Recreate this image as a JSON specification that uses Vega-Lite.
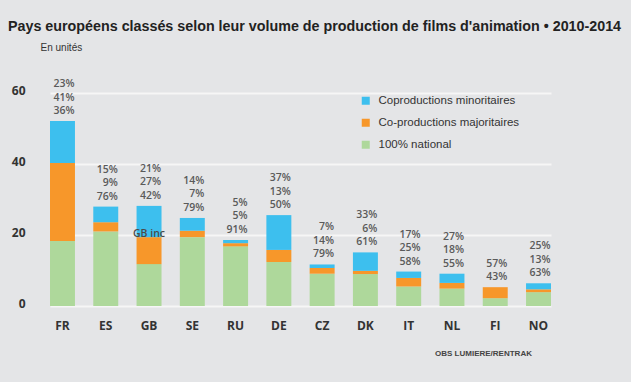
{
  "$schema": "https://vega.github.io/schema/vega-lite/v6.json",
  "width": 501,
  "height": 213,
  "autosize": {"type": "none"},
  "padding": {"left": 50, "top": 93, "right": 80, "bottom": 76},
  "background": "#e4e5e7",
  "title": {
    "text": "Pays européens classés selon leur volume de production de films d'animation • 2010-2014",
    "anchor": "start",
    "frame": "group",
    "dx": -42,
    "offset": 8,
    "fontSize": 14.3,
    "font": "Liberation Sans",
    "fontWeight": "bold",
    "color": "#222"
  },
  "datasets": {
    "bars": [
      {"country": "FR", "type": "100% national", "value": 18.3},
      {"country": "FR", "type": "Co-productions majoritaires", "value": 22.0},
      {"country": "FR", "type": "Coproductions minoritaires", "value": 11.8},
      {"country": "ES", "type": "100% national", "value": 21.0},
      {"country": "ES", "type": "Co-productions majoritaires", "value": 2.6},
      {"country": "ES", "type": "Coproductions minoritaires", "value": 4.4},
      {"country": "GB", "type": "100% national", "value": 11.8},
      {"country": "GB", "type": "Co-productions majoritaires", "value": 7.6},
      {"country": "GB", "type": "Coproductions minoritaires", "value": 8.8},
      {"country": "SE", "type": "100% national", "value": 19.4},
      {"country": "SE", "type": "Co-productions majoritaires", "value": 1.8},
      {"country": "SE", "type": "Coproductions minoritaires", "value": 3.6},
      {"country": "RU", "type": "100% national", "value": 16.8},
      {"country": "RU", "type": "Co-productions majoritaires", "value": 0.9},
      {"country": "RU", "type": "Coproductions minoritaires", "value": 0.9},
      {"country": "DE", "type": "100% national", "value": 12.4},
      {"country": "DE", "type": "Co-productions majoritaires", "value": 3.4},
      {"country": "DE", "type": "Coproductions minoritaires", "value": 9.8},
      {"country": "CZ", "type": "100% national", "value": 9.1},
      {"country": "CZ", "type": "Co-productions majoritaires", "value": 1.6},
      {"country": "CZ", "type": "Coproductions minoritaires", "value": 1.0},
      {"country": "DK", "type": "100% national", "value": 9.0},
      {"country": "DK", "type": "Co-productions majoritaires", "value": 0.9},
      {"country": "DK", "type": "Coproductions minoritaires", "value": 5.2},
      {"country": "IT", "type": "100% national", "value": 5.5},
      {"country": "IT", "type": "Co-productions majoritaires", "value": 2.4},
      {"country": "IT", "type": "Coproductions minoritaires", "value": 1.8},
      {"country": "NL", "type": "100% national", "value": 4.9},
      {"country": "NL", "type": "Co-productions majoritaires", "value": 1.6},
      {"country": "NL", "type": "Coproductions minoritaires", "value": 2.6},
      {"country": "FI", "type": "100% national", "value": 2.2},
      {"country": "FI", "type": "Co-productions majoritaires", "value": 3.1},
      {"country": "FI", "type": "Coproductions minoritaires", "value": 0},
      {"country": "NO", "type": "100% national", "value": 3.9},
      {"country": "NO", "type": "Co-productions majoritaires", "value": 0.8},
      {"country": "NO", "type": "Coproductions minoritaires", "value": 1.7}
    ],
    "labels": [
      {"country": "FR", "label": ["23%", "41%", "36%"]},
      {"country": "ES", "label": ["15%", "9%", "76%"]},
      {"country": "GB", "label": ["21%", "27%", "42%"]},
      {"country": "SE", "label": ["14%", "7%", "79%"]},
      {"country": "RU", "label": ["5%", "5%", "91%"]},
      {"country": "DE", "label": ["37%", "13%", "50%"]},
      {"country": "CZ", "label": ["7%", "14%", "79%"]},
      {"country": "DK", "label": ["33%", "6%", "61%"]},
      {"country": "IT", "label": ["17%", "25%", "58%"]},
      {"country": "NL", "label": ["27%", "18%", "55%"]},
      {"country": "FI", "label": ["", "57%", "43%"]},
      {"country": "NO", "label": ["25%", "13%", "63%"]}
    ],
    "notes": [
      {"country": "GB", "note": "GB inc", "value": 20.4}
    ]
  },
  "encoding": {
    "x": {
      "field": "country",
      "type": "nominal",
      "sort": ["FR", "ES", "GB", "SE", "RU", "DE", "CZ", "DK", "IT", "NL", "FI", "NO"],
      "scale": {"paddingInner": 0.423, "paddingOuter": 0},
      "axis": {
        "title": "OBS LUMIERE/RENTRAK",
        "titleX": 433,
        "titleY": 43,
        "titleAlign": "center",
        "titleAnchor": null,
        "titleFontSize": 8,
        "titleFontWeight": "bold",
        "titleFont": "Liberation Sans",
        "titleColor": "#444",
        "labelAngle": 0,
        "labelFont": "Open Sans",
        "labelFontWeight": "bold",
        "labelFontSize": 12,
        "labelColor": "#333",
        "labelPadding": 14,
        "domain": false,
        "ticks": false
      }
    }
  },
  "layer": [
    {
      "data": {"name": "bars"},
      "transform": [
        {"calculate": "datum.type == '100% national' ? 0 : (datum.type == 'Co-productions majoritaires' ? 1 : 2)", "as": "ord"}
      ],
      "mark": {"type": "bar"},
      "encoding": {
        "y": {
          "field": "value",
          "type": "quantitative",
          "stack": "zero",
          "scale": {"domain": [0, 60], "nice": false},
          "axis": {
            "values": [0, 20, 40, 60],
            "title": "En unités",
            "titleAngle": 0,
            "titleX": -10,
            "titleY": -46,
            "titleAlign": "left",
            "titleBaseline": "middle",
            "titleFontSize": 10,
            "titleFontWeight": "normal",
            "titleFont": "Liberation Sans",
            "titleColor": "#333",
            "labelFont": "Open Sans",
            "labelFontWeight": "bold",
            "labelFontSize": 12,
            "labelColor": "#333",
            "labelPadding": 25,
            "labelOffset": -3,
            "domain": false,
            "ticks": false,
            "grid": true,
            "gridColor": "#f6f6f6",
            "gridWidth": 2
          }
        },
        "color": {
          "field": "type",
          "type": "nominal",
          "scale": {
            "domain": ["Coproductions minoritaires", "Co-productions majoritaires", "100% national"],
            "range": ["#3dbfee", "#f7972a", "#aed89b"]
          },
          "legend": {
            "orient": "none",
            "legendX": 310,
            "legendY": 2,
            "title": null,
            "symbolType": "square",
            "symbolSize": 64,
            "symbolStrokeWidth": 0,
            "labelFont": "Liberation Sans",
            "labelFontSize": 11.5,
            "labelColor": "#333",
            "rowPadding": 9,
            "labelOffset": 7
          }
        },
        "order": {"field": "ord", "type": "quantitative"}
      }
    },
    {
      "data": {"name": "bars"},
      "transform": [
        {"aggregate": [{"op": "sum", "field": "value", "as": "total"}], "groupby": ["country"]},
        {"lookup": "country", "from": {"data": {"name": "labels"}, "key": "country", "fields": ["label"]}}
      ],
      "mark": {
        "type": "text",
        "align": "right",
        "baseline": "bottom",
        "dx": 12,
        "dy": -32,
        "lineHeight": 13.5,
        "font": "Open Sans",
        "fontSize": 10.5,
        "fontWeight": 600,
        "color": "#5a5a5a"
      },
      "encoding": {
        "y": {"field": "total", "type": "quantitative"},
        "text": {"field": "label", "type": "nominal"}
      }
    },
    {
      "data": {"name": "notes"},
      "mark": {
        "type": "text",
        "align": "center",
        "baseline": "middle",
        "font": "Open Sans",
        "fontSize": 10.5,
        "fontWeight": 600,
        "color": "#4a4a4a"
      },
      "encoding": {
        "y": {"field": "value", "type": "quantitative"},
        "text": {"field": "note", "type": "nominal"}
      }
    }
  ],
  "config": {
    "view": {"stroke": null}
  }
}
